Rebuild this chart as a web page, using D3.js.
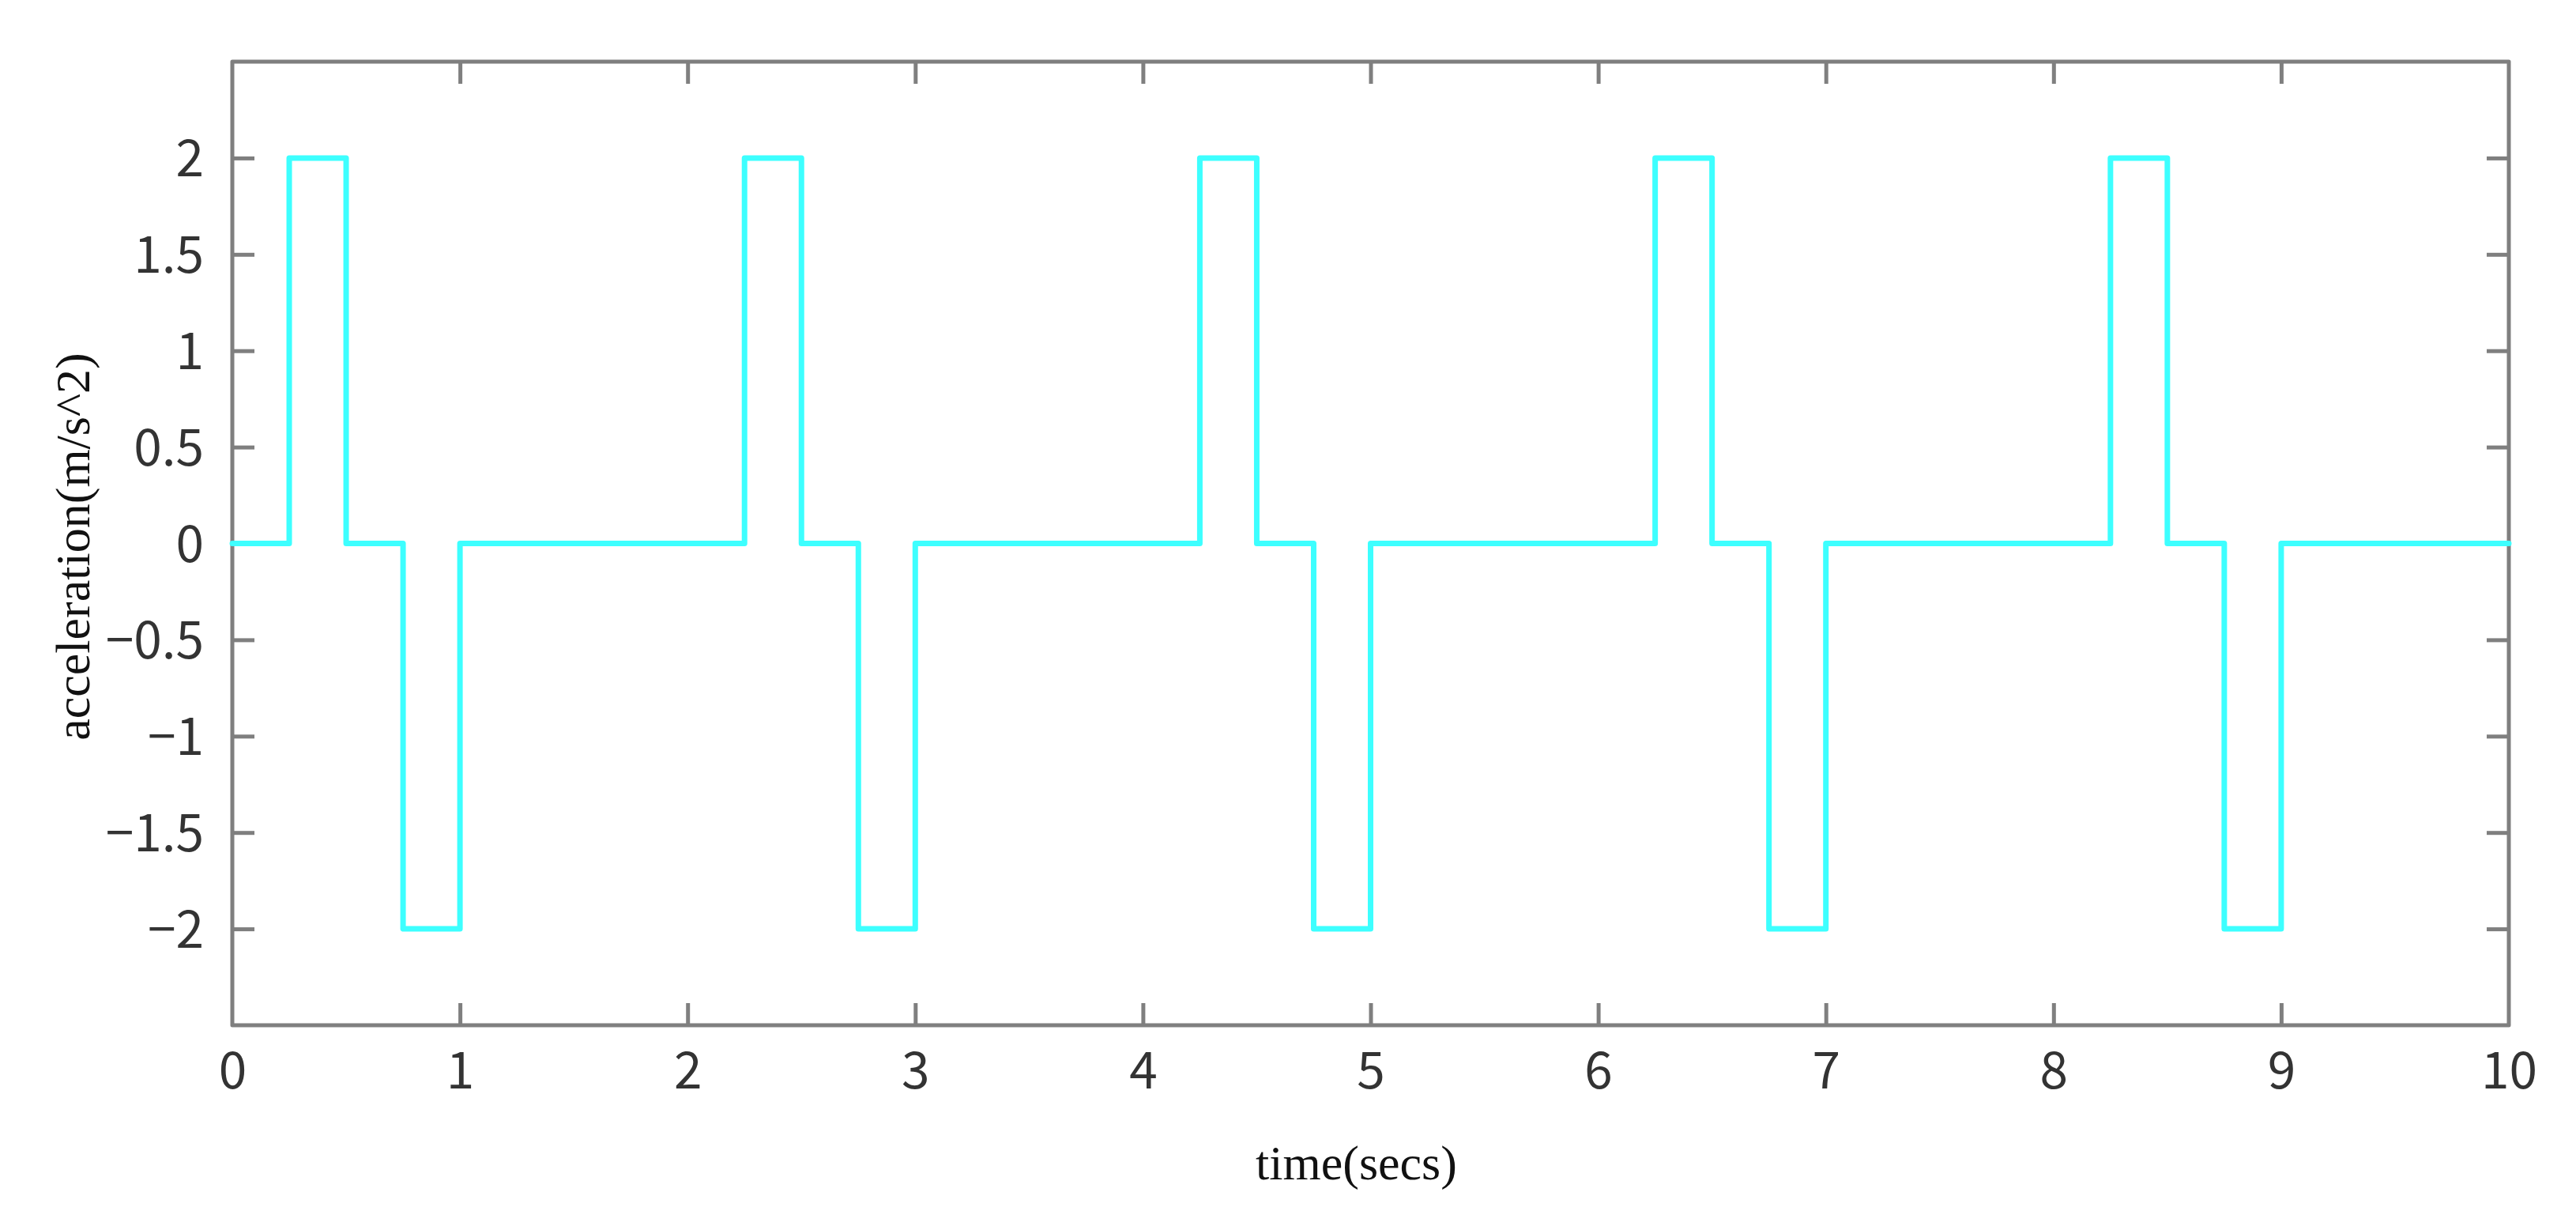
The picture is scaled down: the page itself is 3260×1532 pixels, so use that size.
<!DOCTYPE html>
<html>
<head>
<meta charset="utf-8">
<script src="https://cdn.jsdelivr.net/npm/d3@7"></script>
<style>
  html, body { margin: 0; padding: 0; background: #fff; }
  svg { display: block; }
</style>
</head>
<body>
<svg id="chart" width="3260" height="1532"></svg>
<script>
// ---- data ----
const times  = [0, 0.25, 0.5, 0.75, 1.0, 2.25, 2.5, 2.75, 3.0, 4.25, 4.5, 4.75, 5.0, 6.25, 6.5, 6.75, 7.0, 8.25, 8.5, 8.75, 9.0, 10];
const accel  = [0, 2,    0,   -2,   0,   2,    0,   -2,   0,   2,    0,   -2,   0,   2,    0,   -2,   0,   2,    0,   -2,   0,   0];
const xTicks = [0, 1, 2, 3, 4, 5, 6, 7, 8, 9, 10];
const yTicks = [-2, -1.5, -1, -0.5, 0, 0.5, 1, 1.5, 2];
const xDomain = [0, 10];
const yDomain = [-2.5, 2.5];
const xLabel = "time(secs)";
const yLabel = "acceleration(m/s^2)";

(function () {
// ---- layout ----
const mL = 294, mR = 3175, mT = 78, mB = 1297;
const svg = d3.select("#chart");
svg.append("rect").attr("width", 3260).attr("height", 1532).attr("fill", "#fff");

const x = d3.scaleLinear().domain(xDomain).range([mL, mR]);
const y = d3.scaleLinear().domain(yDomain).range([mB, mT]);

const frameColor = "#7f7f7f";
const tickLen = 28;
const fmt = d3.format("");

const gB = svg.append("g").attr("transform", `translate(0,${mB})`)
  .call(d3.axisBottom(x).tickValues(xTicks).tickSizeInner(-tickLen).tickSizeOuter(0).tickFormat(fmt));
const gT = svg.append("g").attr("transform", `translate(0,${mT})`)
  .call(d3.axisTop(x).tickValues(xTicks).tickSizeInner(-tickLen).tickSizeOuter(0).tickFormat(""));
const gL = svg.append("g").attr("transform", `translate(${mL},0)`)
  .call(d3.axisLeft(y).tickValues(yTicks).tickSizeInner(-tickLen).tickSizeOuter(0).tickFormat(fmt));
const gR = svg.append("g").attr("transform", `translate(${mR},0)`)
  .call(d3.axisRight(y).tickValues(yTicks).tickSizeInner(-tickLen).tickSizeOuter(0).tickFormat(""));

[gB, gT, gL, gR].forEach(g => {
  g.select(".domain").remove();
  g.selectAll(".tick line").attr("stroke", frameColor).attr("stroke-width", 5);
});
gB.selectAll(".tick").filter(d => d === 0 || d === 10).select("line").remove();
gT.selectAll(".tick").filter(d => d === 0 || d === 10).select("line").remove();

gB.selectAll(".tick text")
  .attr("y", 80).attr("dy", null)
  .attr("font-family", "'Noto Sans CJK JP', 'DejaVu Sans', sans-serif")
  .attr("font-size", 64).attr("fill", "#333");
gL.selectAll(".tick text")
  .attr("x", -36).attr("dy", "0.36em")
  .attr("font-family", "'Noto Sans CJK JP', 'DejaVu Sans', sans-serif")
  .attr("font-size", 64).attr("fill", "#333");

svg.append("rect")
  .attr("x", mL).attr("y", mT)
  .attr("width", mR - mL).attr("height", mB - mT)
  .attr("fill", "none").attr("stroke", frameColor).attr("stroke-width", 5)
  .attr("stroke-linejoin", "round");

const pts = times.map((t, i) => [t, accel[i]]);
const line = d3.line().x(d => x(d[0])).y(d => y(d[1])).curve(d3.curveStepAfter);
svg.append("path")
  .attr("d", line(pts))
  .attr("fill", "none")
  .attr("stroke", "#3dffff")
  .attr("stroke-width", 7)
  .attr("stroke-linejoin", "round")
  .attr("stroke-linecap", "round");

svg.append("text")
  .attr("x", (mL + mR) / 2 - 18).attr("y", 1492)
  .attr("text-anchor", "middle")
  .attr("font-family", "'Liberation Serif', 'Times New Roman', serif")
  .attr("font-size", 62).attr("fill", "#111")
  .text(xLabel);

svg.append("text")
  .attr("transform", `translate(113,${(mT + mB) / 2 + 4}) rotate(-90)`)
  .attr("text-anchor", "middle")
  .attr("font-family", "'Liberation Serif', 'Times New Roman', serif")
  .attr("font-size", 62).attr("fill", "#111")
  .text(yLabel);
})();
</script>
</body>
</html>
